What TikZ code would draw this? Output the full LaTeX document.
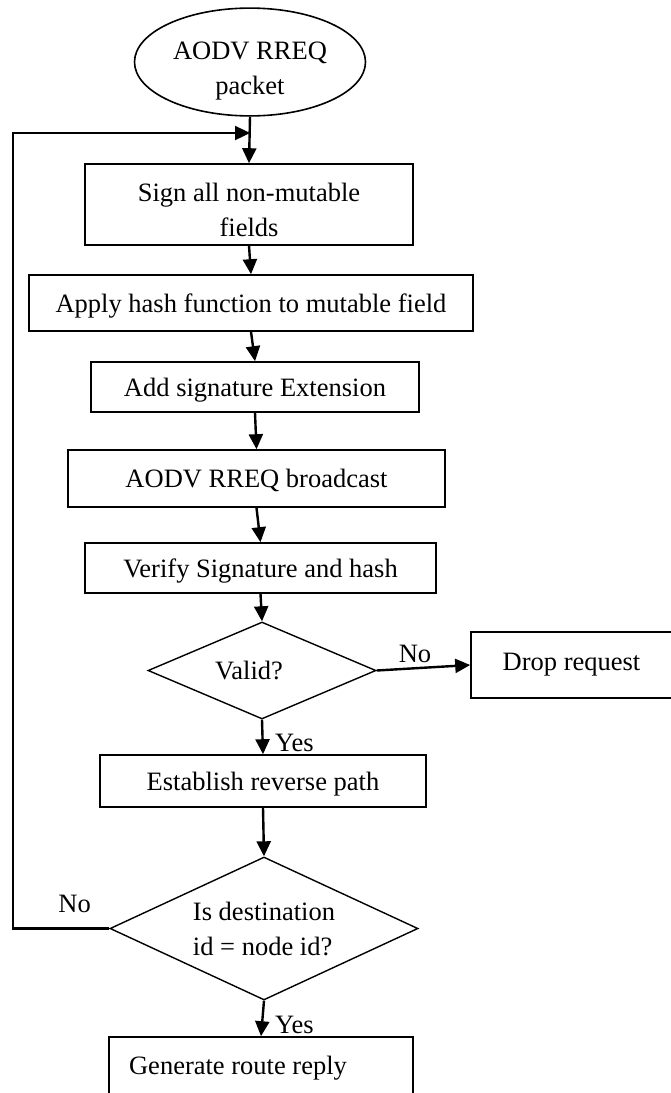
\documentclass[tikz,border=0pt]{standalone}
\usepackage{fontspec}
\setmainfont{Liberation Serif}
\usetikzlibrary{calc}
\usetikzlibrary{arrows.meta}
\usetikzlibrary{shapes.geometric}

\begin{document}
\begin{tikzpicture}[x=1pt,y=-1pt,
  every node/.style={font=\fontsize{26.5}{35}\selectfont},
  proc/.style={draw,line width=1.6pt,inner sep=0pt,align=center,text depth=0pt},
  term/.style={draw,ellipse,line width=1.6pt,inner sep=0pt,align=center},
  cond/.style={draw,diamond,line width=1.4pt,inner sep=0pt,align=left},
  flow/.style={line width=2.4pt,-{Triangle[length=15pt,width=14pt]}},
  lbl/.style={inner sep=0pt}]

\useasboundingbox (0,0) rectangle (671,1093);

\coordinate (loopin) at (250,133);
\coordinate (back) at (13,133);

\node[term,minimum width=231pt,minimum height=106pt,text height=70.5pt,text depth=5.75pt] (rreq) at (250,62) {AODV RREQ\\packet};
\node[proc,minimum width=328pt,minimum height=81pt,text height=63pt] (sign) at (249,204.5) {Sign all non-mutable\\fields};
\node[proc,minimum width=444pt,minimum height=56pt] (hash) at (251,303) {Apply hash function to mutable field};
\node[proc,minimum width=328pt,minimum height=50pt] (ext) at (255,387) {Add signature Extension};
\node[proc,minimum width=377pt,minimum height=57pt] (bcast) at (256.5,478.5) {AODV RREQ broadcast};
\node[proc,minimum width=351pt,minimum height=50pt] (verify) at (260.5,568) {Verify Signature and hash};
\node[cond,minimum width=228pt,minimum height=97pt,shape aspect=2.35] (valid) at (262,670.5) {Valid?\hspace*{26pt}};
\node[proc,minimum width=201pt,minimum height=66pt,text depth=5.75pt] (drop) at (571.5,665) {Drop request};
\node[proc,minimum width=326pt,minimum height=52pt] (rev) at (263,781) {Establish reverse path};
\node[cond,minimum width=308pt,minimum height=143pt,shape aspect=2.15] (dest) at (264,928.5) {Is destination\\id = node id?};
\node[proc,minimum width=304pt,minimum height=63pt,text depth=5.75pt] (reply) at (261,1068.5) {Generate route reply\hspace*{46pt}};

\draw[flow] (rreq.south) -- (sign.north);
\draw[flow] (sign.south) -- (hash.north);
\draw[flow] (hash.south) -- (ext.north);
\draw[flow] (ext.south) -- (bcast.north);
\draw[flow] (bcast.south) -- (verify.north);
\draw[flow] (verify.south) -- (valid.north);
\draw[flow] (valid.east) -- node[lbl,anchor=base,pos=0.41,yshift=6pt] {No} (drop.west);
\draw[flow] (valid.south) -- (rev.north) node[lbl,anchor=base west,xshift=11pt,yshift=3pt] {Yes};
\draw[flow] (rev.south) -- (dest.north);
\draw[flow] (dest.west) -- node[lbl,anchor=base,pos=0.36,yshift=16pt] {No} (back |- dest.west) -- (back) -- (loopin);
\draw[flow] (dest.south) -- (reply.north) node[lbl,anchor=base west,xshift=13pt,yshift=3pt] {Yes};

\end{tikzpicture}
\end{document}
